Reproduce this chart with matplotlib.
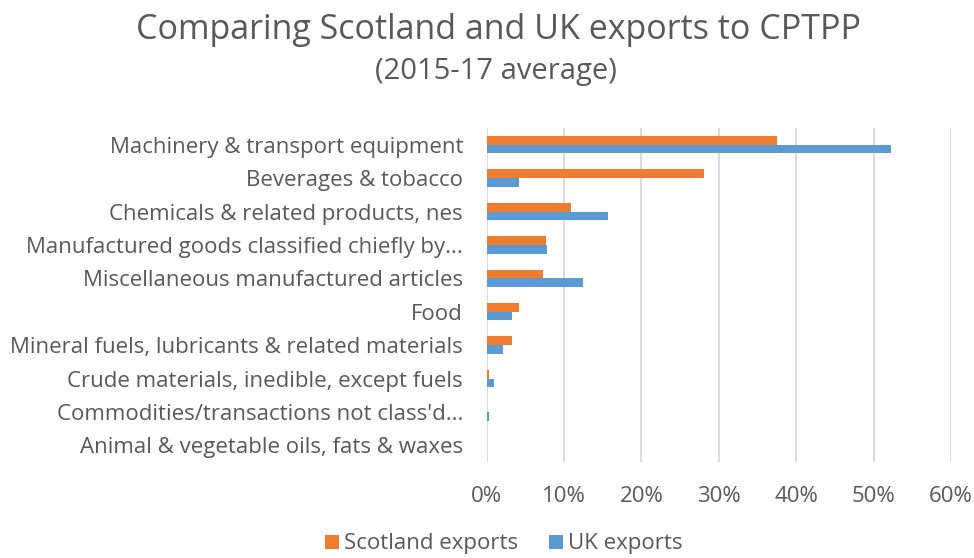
import matplotlib
matplotlib.use("Agg")
import matplotlib.pyplot as plt
import numpy as np

categories = [
    "Machinery & transport equipment",
    "Beverages & tobacco",
    "Chemicals & related products, nes",
    "Manufactured goods classified chiefly by...",
    "Miscellaneous manufactured articles",
    "Food",
    "Mineral fuels, lubricants & related materials",
    "Crude materials, inedible, except fuels",
    "Commodities/transactions not class'd...",
    "Animal & vegetable oils, fats & waxes",
]
scotland = [37.5, 28.1, 10.9, 7.7, 7.3, 4.2, 3.3, 0.3, 0.0, 0.0]
uk = [52.3, 4.2, 15.7, 7.8, 12.4, 3.3, 2.1, 1.0, 0.3, 0.0]
xticks = [0, 10, 20, 30, 40, 50, 60]

ORANGE = "#ED7D31"
BLUE = "#5B9BD5"
GREY_TEXT = "#595959"
GRID = "#D9D9D9"

plt.rcParams["font.family"] = ["Open Sans", "DejaVu Sans"]

fig = plt.figure(figsize=(9.74, 5.58), dpi=100)
ax = fig.add_axes([486.7 / 974, 1 - 462 / 558, (951 - 486.7) / 974, (462 - 128) / 558])

n = len(categories)
y = np.arange(n)
h = 0.26
ax.barh(y - h / 2, scotland, height=h, color=ORANGE, label="Scotland exports", zorder=3)
ax.barh(y + h / 2, uk, height=h, color=BLUE, label="UK exports", zorder=3)

ax.set_ylim(n - 0.5, -0.5)
ax.set_xlim(0, 60)
ax.set_xticks(xticks)
ax.set_xticklabels([f"{v}%" for v in xticks])
ax.set_yticks(y)
ax.set_yticklabels(categories)

ax.grid(axis="x", color=GRID, linewidth=1.3, zorder=0)
for s in ax.spines.values():
    s.set_visible(False)
ax.tick_params(axis="both", length=0, colors=GREY_TEXT, labelsize=16)
ax.tick_params(axis="y", pad=17)
ax.tick_params(axis="x", pad=17)

fig.text(498 / 974, 1 - 30 / 558, "Comparing Scotland and UK exports to CPTPP",
         ha="center", va="center", fontsize=24.5, color=GREY_TEXT)
fig.text(496 / 974, 1 - 72 / 558, "(2015-17 average)",
         ha="center", va="center", fontsize=21, color=GREY_TEXT)

fig.legend(loc="center", bbox_to_anchor=(504 / 974, 1 - 544 / 558), ncol=2, frameon=False,
           fontsize=16, labelcolor=GREY_TEXT, handlelength=0.6, handleheight=0.6,
           handletextpad=0.25, columnspacing=1.4, borderpad=0)

fig.savefig("out.png", dpi=100)
